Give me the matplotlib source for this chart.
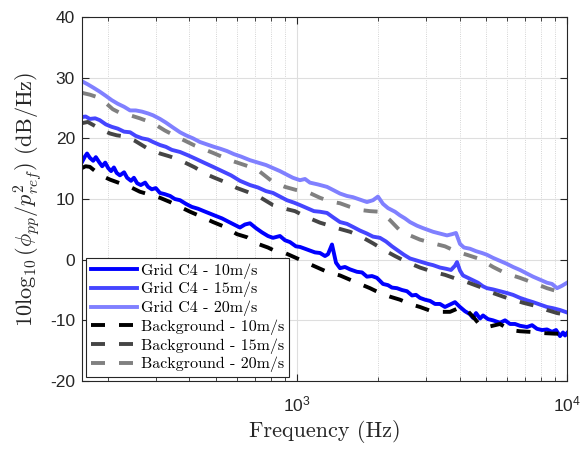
import matplotlib
matplotlib.use("Agg")
import matplotlib.pyplot as plt
from matplotlib.ticker import LogLocator, NullFormatter, FixedLocator

plt.rcParams['font.family'] = ['Liberation Sans', 'DejaVu Sans']
plt.rcParams['mathtext.fontset'] = 'cm'
plt.rcParams['axes.unicode_minus'] = False

# Grid C4 spectra
f_grid10 = [160, 164, 167, 171, 176, 180, 185, 190, 195, 200, 205, 210, 215, 221, 229, 235, 243, 249,
            256, 264, 274, 281, 290, 300, 311, 324, 339, 353, 369, 388, 408, 430, 452, 476, 501, 528,
            555, 584, 615, 642, 670, 705, 742, 781, 815, 865, 903, 942, 991, 1026, 1071, 1117, 1166,
            1217, 1270, 1303, 1348, 1395, 1443, 1506, 1572, 1668, 1741, 1816, 1896, 1978, 2082, 2173,
            2248, 2346, 2448, 2555, 2667, 2759, 2855, 2980, 3110, 3245, 3385, 3532, 3687, 3847, 4015,
            4190, 4373, 4486, 4603, 4762, 4886, 5098, 5320, 5648, 5894, 6151, 6419, 6698, 7112, 7421,
            7743, 8080, 8431, 8799, 9105, 9421, 9665, 9831, 10000]
p_grid10 = [16.1, 17.0, 17.5, 16.8, 16.3, 16.9, 16.1, 15.4, 16.0, 15.1, 14.6, 15.2, 14.3, 13.9, 14.4,
            13.5, 13.0, 13.5, 12.6, 12.3, 12.7, 12.0, 11.6, 11.8, 11.0, 10.8, 10.5, 10.0, 9.8, 9.2,
            8.7, 8.4, 8.0, 7.6, 7.2, 6.8, 6.3, 5.8, 5.3, 5.8, 6.0, 5.2, 4.5, 3.9, 3.6, 3.9, 3.2, 2.9,
            2.2, 2.1, 1.8, 1.5, 1.2, 1.1, 0.6, 0.9, 2.5, -0.5, -1.4, -1.2, -1.6, -2.0, -2.1, -2.8,
            -2.7, -3.0, -4.0, -4.2, -4.6, -4.7, -5.0, -5.2, -5.9, -5.8, -6.3, -6.6, -6.8, -7.3, -7.3,
            -7.8, -7.4, -7.0, -7.8, -8.5, -9.0, -9.6, -8.8, -9.7, -9.2, -9.8, -10.0, -10.4, -10.0,
            -10.6, -10.6, -10.9, -11.1, -10.8, -11.4, -11.6, -11.5, -11.9, -11.6, -12.6, -12.0,
            -12.5, -12.1]

f_grid15 = [160, 165, 171, 179, 186, 196, 206, 217, 229, 241, 253, 267, 281, 293, 311, 327, 344, 369,
            395, 423, 452, 489, 528, 570, 615, 670, 717, 768, 815, 865, 918, 975, 1026, 1089, 1156,
            1217, 1292, 1359, 1443, 1532, 1612, 1711, 1816, 1912, 2029, 2136, 2248, 2366, 2491, 2621,
            2759, 2904, 3057, 3190, 3385, 3564, 3718, 3847, 3914, 4015, 4119, 4299, 4486, 4682, 4886,
            5055, 5320, 5648, 5995, 6310, 6698, 7112, 7484, 7943, 8431, 8874, 9421, 10000]
p_grid15 = [23.5, 23.6, 23.2, 23.3, 23.0, 22.3, 21.9, 21.6, 21.1, 21.0, 20.4, 20.0, 19.8, 19.4, 18.9,
            18.6, 18.1, 17.75, 17.2, 16.6, 16.0, 15.3, 14.6, 13.9, 13.0, 12.3, 11.9, 11.3, 11.0, 10.4,
            9.8, 9.4, 9.0, 8.5, 8.0, 7.9, 7.7, 7.0, 6.2, 5.9, 5.4, 4.8, 4.3, 3.8, 3.6, 3.0, 2.2, 1.5,
            0.8, 0.2, -0.1, -0.4, -0.7, -0.9, -1.3, -1.5, -1.7, -1.0, -0.4, -1.8, -2.6, -3.0, -3.4,
            -3.8, -4.4, -4.7, -4.9, -5.2, -5.5, -5.8, -6.3, -6.7, -7.0, -7.4, -7.8, -8.0, -8.3, -8.7]

f_grid20 = [160, 168, 177, 186, 196, 206, 217, 229, 241, 253, 267, 281, 293, 311, 327, 347, 369, 388,
            412, 437, 464, 493, 519, 551, 584, 620, 670, 717, 768, 815, 865, 918, 966, 1026, 1071,
            1117, 1196, 1292, 1359, 1443, 1532, 1612, 1711, 1816, 1912, 1995, 2082, 2173, 2307, 2407,
            2512, 2621, 2783, 2929, 3057, 3190, 3385, 3594, 3750, 3880, 4015, 4155, 4373, 4603, 4844,
            5055, 5320, 5648, 5995, 6310, 6698, 7112, 7484, 7943, 8431, 8799, 9183, 9583, 10000]
p_grid20 = [29.4, 28.9, 28.3, 27.7, 27.0, 26.3, 25.7, 25.2, 24.6, 24.6, 24.4, 24.1, 23.8, 23.2, 22.6,
            21.8, 21.0, 20.5, 20.0, 19.4, 19.0, 18.6, 18.3, 17.9, 17.4, 17.0, 16.4, 16.0, 15.6, 15.1,
            14.6, 14.0, 13.5, 13.1, 13.3, 12.7, 12.4, 12.0, 11.5, 10.9, 10.5, 10.3, 9.9, 9.5, 9.8,
            10.4, 9.2, 8.5, 7.9, 7.3, 6.8, 6.2, 5.6, 5.2, 4.9, 4.6, 4.3, 4.0, 4.2, 4.4, 2.6, 2.0, 1.8,
            1.4, 1.1, 0.8, 0.3, -0.2, -0.7, -1.2, -1.7, -2.3, -2.8, -3.3, -3.8, -4.0, -4.7, -4.3, -3.8]

# Background spectra
f_bg10 = [160, 165, 171, 179, 186, 203, 221, 241, 262, 286, 311, 339, 369, 402, 437, 489, 541, 600,
          653, 717, 781, 815, 903, 1026, 1137, 1292, 1443, 1668, 1864, 2029, 2212, 2407, 2621, 2855,
          3110, 3385, 3687, 3914, 4190, 4486, 4762, 5186, 5648, 6151, 6698, 7295, 8148, 9028, 10000]
p_bg10 = [15.1, 15.4, 15.3, 14.6, 14.0, 13.2, 12.6, 12.0, 11.2, 10.7, 10.2, 9.5, 8.7, 7.9, 7.2, 6.2,
          5.4, 4.2, 3.7, 2.6, 2.0, 1.6, 1.1, 0.0, -0.9, -2.0, -2.6, -3.8, -4.7, -5.5, -6.1, -6.6,
          -7.3, -7.8, -8.4, -8.6, -8.6, -8.1, -8.0, -9.4, -10.8, -11.0, -10.6, -11.6, -11.8, -11.9,
          -12.1, -12.2, -12.2]

f_bg15 = [160, 168, 176, 186, 203, 215, 231, 251, 278, 311, 339, 369, 419, 456, 489, 541, 600, 653,
          729, 815, 903, 983, 1089, 1217, 1325, 1406, 1572, 1711, 1912, 2118, 2307, 2555, 2855, 3190,
          3532, 3914, 4262, 4762, 5320, 5894, 6419, 6871, 7612, 8431, 9183, 10000]
p_bg15 = [22.5, 22.7, 22.2, 21.6, 20.8, 20.5, 20.3, 19.6, 18.4, 17.5, 17.0, 16.4, 15.2, 14.2, 13.6,
          12.8, 11.8, 11.2, 10.3, 9.0, 8.4, 8.0, 7.0, 6.1, 5.6, 5.2, 4.6, 3.9, 2.7, 1.5, 0.6, -0.4,
          -1.3, -2.0, -2.5, -3.2, -3.7, -4.5, -5.5, -6.2, -6.7, -7.1, -7.6, -8.3, -8.8, -9.1]

f_bg20 = [160, 171, 182, 195, 208, 221, 241, 262, 293, 324, 369, 419, 489, 565, 670, 729, 815, 903,
          991, 1089, 1217, 1325, 1443, 1572, 1711, 1864, 2029, 2212, 2407, 2621, 2855, 3190, 3532,
          3914, 4262, 4762, 5320, 5894, 6698, 7484, 8431, 9183, 10000]
p_bg20 = [27.5, 27.2, 26.8, 25.9, 24.8, 24.2, 23.8, 23.3, 22.5, 21.3, 20.0, 18.8, 17.6, 16.4, 15.3,
          14.5, 12.8, 12.0, 11.5, 11.2, 10.2, 9.6, 9.3, 8.7, 8.2, 8.0, 7.9, 6.5, 4.8, 4.0, 3.3, 2.7,
          2.2, 1.3, 0.8, 0.1, -1.2, -2.2, -3.0, -3.8, -4.7, -5.2, -5.8]

labels = ['Grid C4 - 10m/s', 'Grid C4 - 15m/s', 'Grid C4 - 20m/s',
          'Background - 10m/s', 'Background - 15m/s', 'Background - 20m/s']

fig = plt.figure(figsize=(5.83, 4.51), dpi=100)
ax = fig.add_axes([0.1407, 0.1552, 0.8319, 0.8071])

lw = 2.8
ax.plot(f_grid10, p_grid10, color=(0, 0, 1), lw=lw, label=labels[0])
ax.plot(f_grid15, p_grid15, color=(0.27, 0.27, 1), lw=lw, label=labels[1])
ax.plot(f_grid20, p_grid20, color=(0.5, 0.5, 1), lw=lw, label=labels[2])
ax.plot(f_bg10, p_bg10, color='black', lw=lw, ls=(0, (3.6, 3.6)), label=labels[3])
ax.plot(f_bg15, p_bg15, color=(0.27, 0.27, 0.27), lw=lw, ls=(0, (3.6, 3.6)), label=labels[4])
ax.plot(f_bg20, p_bg20, color=(0.5, 0.5, 0.5), lw=lw, ls=(0, (3.6, 3.6)), label=labels[5])

ax.set_xscale('log')
ax.set_xlim(160, 10000)
ax.set_ylim(-20, 40)
ax.set_yticks([-20, -10, 0, 10, 20, 30, 40])
ax.xaxis.set_major_locator(FixedLocator([1000, 10000]))
ax.xaxis.set_minor_locator(LogLocator(base=10, subs=range(2, 10), numticks=20))
ax.xaxis.set_minor_formatter(NullFormatter())

ax.grid(True, which='major', color='0.87', lw=0.8, ls='-')
ax.grid(True, which='minor', axis='x', color='0.78', lw=0.6, ls=':')
ax.set_axisbelow(True)

ax.tick_params(which='both', direction='in', top=True, right=True, color='0.15',
               labelcolor='0.15', labelsize=12.5)
ax.tick_params(which='major', length=5, width=0.8)
ax.tick_params(which='minor', length=3, width=0.6)
ax.tick_params(axis='x', which='major', pad=10)
ax.tick_params(axis='y', which='major', pad=5)
for s in ax.spines.values():
    s.set_color('0.15')
    s.set_linewidth(0.8)

ax.set_xlabel('Frequency (Hz)', family='cmr10', fontsize=16, labelpad=4, color='0.15')
ax.set_ylabel(r'$10\log_{10}(\phi_{pp}/p^2_{ref})$ (dB/Hz)', family='cmr10', fontsize=16,
              labelpad=4, color='0.15')

leg = ax.legend(loc='lower left', prop={'family': 'cmr10', 'size': 11.5}, fancybox=False,
                framealpha=1, edgecolor='0.15', borderaxespad=0.25, handlelength=2.9,
                handletextpad=0.25, labelspacing=0.2, borderpad=0.3)
leg.get_frame().set_linewidth(0.8)

fig.savefig('out.png', dpi=100)
